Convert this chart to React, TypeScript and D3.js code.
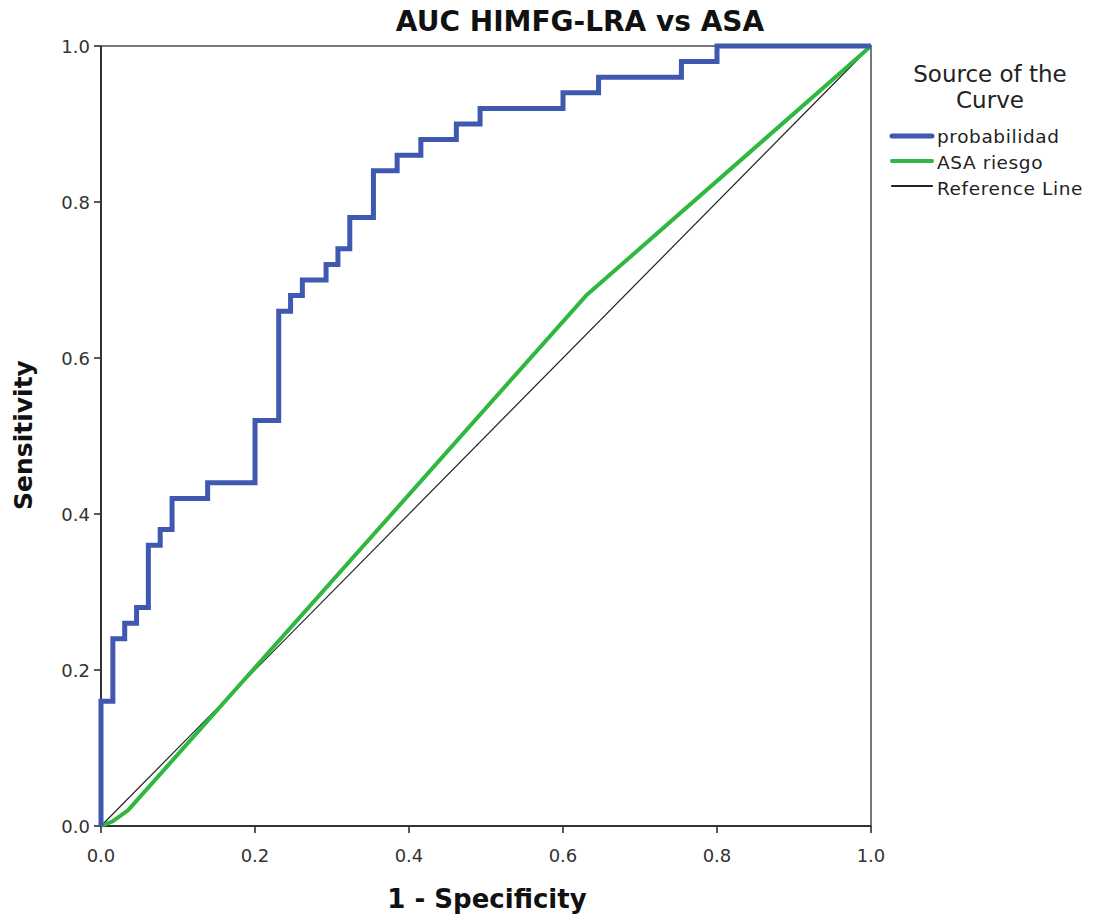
import React from 'react';
import * as d3 from 'd3';

// ROC points
const probFpr = [0, 0, 0.0154, 0.0154, 0.0308, 0.0308, 0.0462, 0.0462, 0.0615, 0.0615, 0.0769, 0.0769, 0.0923, 0.0923, 0.1385, 0.1385, 0.2, 0.2, 0.2308, 0.2308, 0.2462, 0.2462, 0.2615, 0.2615, 0.2923, 0.2923, 0.3077, 0.3077, 0.3231, 0.3231, 0.3538, 0.3538, 0.3846, 0.3846, 0.4154, 0.4154, 0.4615, 0.4615, 0.4923, 0.4923, 0.6, 0.6, 0.6462, 0.6462, 0.7538, 0.7538, 0.8, 0.8, 1];
const probTpr = [0, 0.16, 0.16, 0.24, 0.24, 0.26, 0.26, 0.28, 0.28, 0.36, 0.36, 0.38, 0.38, 0.42, 0.42, 0.44, 0.44, 0.52, 0.52, 0.66, 0.66, 0.68, 0.68, 0.70, 0.70, 0.72, 0.72, 0.74, 0.74, 0.78, 0.78, 0.84, 0.84, 0.86, 0.86, 0.88, 0.88, 0.90, 0.90, 0.92, 0.92, 0.94, 0.94, 0.96, 0.96, 0.98, 0.98, 1, 1];

const asaFpr = [0, 0.015, 0.035, 0.63, 1];
const asaTpr = [0, 0.006, 0.02, 0.68, 1];

const refFpr = [0, 1];
const refTpr = [0, 1];

const ticks = [0, 0.2, 0.4, 0.6, 0.8, 1.0];
const legendNames = ['probabilidad', 'ASA riesgo', 'Reference Line'];
const legendColors = ['#3f58b0', '#2fb83f', '#222'];
const legendWidths = [5, 4, 1.2];

const W = 1096;
const H = 917;
const m = { left: 101, top: 46, right: 871, bottom: 826 };

export default function App() {
  const x = d3.scaleLinear().domain([0, 1]).range([m.left, m.right]);
  const y = d3.scaleLinear().domain([0, 1]).range([m.bottom, m.top]);
  const line = d3.line<[number, number]>().x(d => x(d[0])).y(d => y(d[1]));
  const zip = (a: number[], b: number[]) => a.map((v, i) => [v, b[i]] as [number, number]);
  const font = '"DejaVu Sans", Verdana, sans-serif';

  return (
    <svg width={W} height={H} style={{ position: 'absolute', left: 0, top: 0, background: '#fff' }} fontFamily={font}>
      <rect x={0} y={0} width={W} height={H} fill="#fff" />
      <text x={580} y={31} textAnchor="middle" fontSize={28} fontWeight="bold" fill="#111">AUC HIMFG-LRA vs ASA</text>

      {/* frame */}
      <rect x={m.left} y={m.top} width={m.right - m.left} height={m.bottom - m.top} fill="none" stroke="#777" strokeWidth={2} />

      {/* x ticks */}
      {ticks.map(t => (
        <g key={'x' + t}>
          <line x1={x(t)} x2={x(t)} y1={m.bottom} y2={m.bottom + 7} stroke="#222" strokeWidth={1.5} />
          <text x={x(t)} y={862} textAnchor="middle" fontSize={18} fill="#333">{t.toFixed(1)}</text>
        </g>
      ))}
      {/* y ticks */}
      {ticks.map(t => (
        <g key={'y' + t}>
          <line x1={m.left - 7} x2={m.left} y1={y(t)} y2={y(t)} stroke="#222" strokeWidth={1.5} />
          <text x={90} y={y(t) + 6.5} textAnchor="end" fontSize={18} fill="#333">{t.toFixed(1)}</text>
        </g>
      ))}
      <line x1={m.left} x2={m.right} y1={m.bottom} y2={m.bottom} stroke="#333" strokeWidth={2} />
      <line x1={m.left} x2={m.left} y1={m.top} y2={m.bottom} stroke="#333" strokeWidth={2} />

      <text x={487} y={908} textAnchor="middle" fontSize={26} fontWeight="bold" fill="#111">1 - Specificity</text>
      <text transform="translate(32,435) rotate(-90)" textAnchor="middle" fontSize={25} fontWeight="bold" fill="#111">Sensitivity</text>

      {/* curves */}
      <path d={line(zip(refFpr, refTpr)) || ''} fill="none" stroke={legendColors[2]} strokeWidth={legendWidths[2]} />
      <path d={line(zip(asaFpr, asaTpr)) || ''} fill="none" stroke={legendColors[1]} strokeWidth={legendWidths[1]} strokeLinejoin="round" />
      <path d={line(zip(probFpr, probTpr)) || ''} fill="none" stroke={legendColors[0]} strokeWidth={legendWidths[0]} />

      {/* legend */}
      <text x={990} y={82} textAnchor="middle" fontSize={23} fill="#222">Source of the</text>
      <text x={990} y={108} textAnchor="middle" fontSize={23} fill="#222">Curve</text>
      {legendNames.map((n, i) => (
        <g key={n}>
          <line x1={892} x2={932} y1={136 + i * 25} y2={136 + i * 25} stroke={legendColors[i]} strokeWidth={legendWidths[i] + (i === 2 ? 0.8 : 0)} strokeLinecap="round" />
          <text x={937} y={143 + i * 26} fontSize={18.5} letterSpacing={0.6} fill="#222">{n}</text>
        </g>
      ))}
    </svg>
  );
}
